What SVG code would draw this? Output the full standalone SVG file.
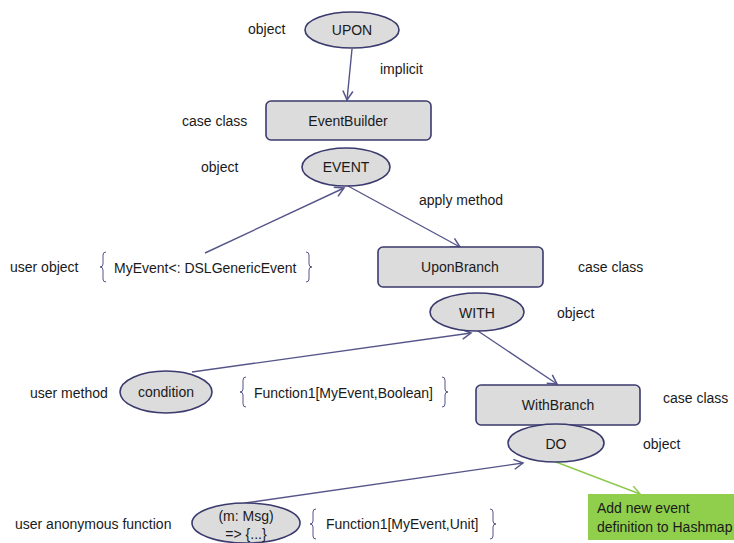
<svg xmlns="http://www.w3.org/2000/svg" width="734" height="543" viewBox="0 0 734 543">
<defs>
<style>
text{font-family:"Liberation Sans",Arial,sans-serif;font-size:14px;fill:#1a1a1a}
.c{text-anchor:middle;dominant-baseline:central}
.l{dominant-baseline:central}
.node{fill:#dcdcdc;stroke:#3a3a6e;stroke-width:1.6}
.edge{stroke:#55558a;stroke-width:1.4;fill:none}
.green{stroke:#8cc84b;stroke-width:1.4;fill:none}
.brace{stroke:#55558a;stroke-width:1;fill:none}
</style>
<marker id="arr" markerWidth="12" markerHeight="12" refX="10" refY="6" orient="auto" markerUnits="userSpaceOnUse">
<path d="M1,1 L10,6 L1,11" fill="none" stroke="#55558a" stroke-width="1.5"/>
</marker>
<marker id="garr" markerWidth="12" markerHeight="12" refX="10" refY="6" orient="auto" markerUnits="userSpaceOnUse">
<path d="M1,1 L10,6 L1,11" fill="none" stroke="#8cc84b" stroke-width="1.5"/>
</marker>
</defs>
<rect width="734" height="543" fill="#ffffff"/>
<g id="connectors">
<line class="edge" x1="352" y1="49" x2="347" y2="100" marker-end="url(#arr)"/>
<line class="edge" x1="205" y1="253" x2="344" y2="188" marker-end="url(#arr)"/>
<line class="edge" x1="348" y1="186" x2="460" y2="247" marker-end="url(#arr)"/>
<line class="edge" x1="192" y1="372" x2="471" y2="333" marker-end="url(#arr)"/>
<line class="edge" x1="478" y1="331" x2="557" y2="384" marker-end="url(#arr)"/>
<line class="edge" x1="245" y1="503" x2="523" y2="463" marker-end="url(#arr)"/>
<line class="green" x1="556" y1="462" x2="640" y2="494" marker-end="url(#garr)"/>
</g>
<g id="upon"><ellipse class="node" cx="352" cy="30" rx="47" ry="18"/><text class="c" x="352" y="30">UPON</text></g>
<g id="eventbuilder"><rect class="node" x="266" y="101" width="165" height="39" rx="5"/><text class="c" x="348" y="121">EventBuilder</text></g>
<g id="event"><ellipse class="node" cx="346" cy="167" rx="44" ry="19"/><text class="c" x="346" y="167">EVENT</text></g>
<g id="uponbranch"><rect class="node" x="378" y="247" width="165" height="40" rx="5"/><text class="c" x="460" y="267">UponBranch</text></g>
<g id="with"><ellipse class="node" cx="477" cy="312" rx="47" ry="19"/><text class="c" x="477" y="313">WITH</text></g>
<g id="withbranch"><rect class="node" x="476" y="385" width="164" height="40" rx="5"/><text class="c" x="558" y="405">WithBranch</text></g>
<g id="do"><ellipse class="node" cx="556" cy="443" rx="48" ry="19"/><text class="c" x="556" y="444">DO</text></g>
<g id="condition"><ellipse class="node" cx="166" cy="392" rx="46" ry="21"/><text class="c" x="166" y="392">condition</text></g>
<g id="anon"><ellipse class="node" cx="246" cy="523" rx="54" ry="20"/><text class="c" x="246" y="516">(m: Msg)</text><text class="c" x="246" y="534">=&gt; {...}</text></g>
<g id="note"><rect x="588" y="494" width="146" height="46" fill="#8fcf4c"/><text class="l" x="597" y="508">Add new event</text><text class="l" x="597" y="527">definition to Hashmap</text></g>
<g id="labels">
<text class="l" x="248" y="29">object</text>
<text class="l" x="380" y="69">implicit</text>
<text class="l" x="182" y="121">case class</text>
<text class="l" x="201" y="167">object</text>
<text class="l" x="419" y="200">apply method</text>
<text class="l" x="10" y="267">user object</text>
<text class="l" x="578" y="267">case class</text>
<text class="l" x="557" y="313">object</text>
<text class="l" x="30" y="393">user method</text>
<text class="l" x="663" y="398">case class</text>
<text class="l" x="643" y="444">object</text>
<text class="l" x="15" y="524">user anonymous function</text>
</g>
<g id="types">
<path class="brace" d="M106,252 q-3,0 -3,3 v9 q0,3 -3,3 q3,0 3,3 v9 q0,3 3,3"/>
<text class="l" x="114" y="268">MyEvent&lt;: DSLGenericEvent</text>
<path class="brace" d="M306,252 q3,0 3,3 v9 q0,3 3,3 q-3,0 -3,3 v9 q0,3 -3,3"/>
<path class="brace" d="M246,377 q-3,0 -3,3 v9 q0,3 -3,3 q3,0 3,3 v9 q0,3 3,3"/>
<text class="l" x="254" y="393">Function1[MyEvent,Boolean]</text>
<path class="brace" d="M442,377 q3,0 3,3 v9 q0,3 3,3 q-3,0 -3,3 v9 q0,3 -3,3"/>
<path class="brace" d="M316,509 q-3,0 -3,3 v9 q0,3 -3,3 q3,0 3,3 v9 q0,3 3,3"/>
<text class="l" x="326" y="524">Function1[MyEvent,Unit]</text>
<path class="brace" d="M490,509 q3,0 3,3 v9 q0,3 3,3 q-3,0 -3,3 v9 q0,3 -3,3"/>
</g>
</svg>
